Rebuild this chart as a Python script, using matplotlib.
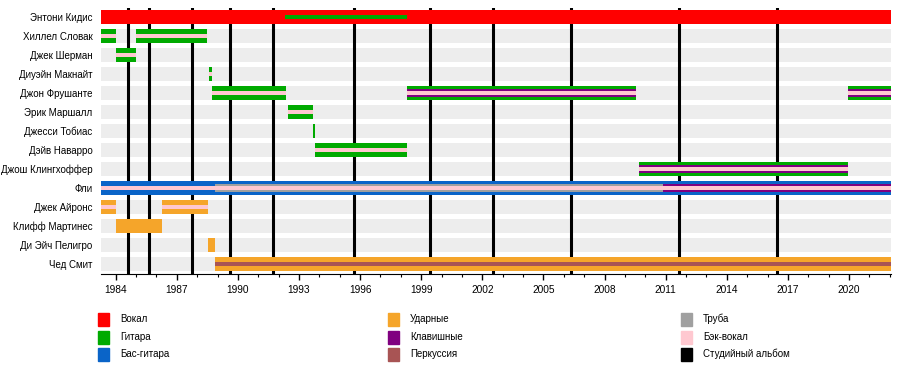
import matplotlib
matplotlib.use("Agg")
import matplotlib.pyplot as plt
from matplotlib.patches import Rectangle

plt.rcParams['font.family'] = ['Liberation Sans', 'DejaVu Sans']

W, H = 900, 370

# участники сверху вниз
members = ["Энтони Кидис", "Хиллел Словак", "Джек Шерман", "Диуэйн Макнайт",
           "Джон Фрушанте", "Эрик Маршалл", "Джесси Тобиас", "Дэйв Наварро",
           "Джош Клингхоффер", "Фли", "Джек Айронс", "Клифф Мартинес",
           "Ди Эйч Пелигро", "Чед Смит"]

start_year = 1983.28
end_year = 2022.06

colors = {
    "vocals": "#ff0000",
    "guitar": "#00aa00",
    "bass": "#0a64c8",
    "drums": "#f5a52a",
    "keys": "#800080",
    "perc": "#a85454",
    "trumpet": "#a0a0a0",
    "bvocals": "#ffc8d0",
    "album": "#000000",
}

legend_keys = ["vocals", "guitar", "bass", "drums", "keys", "perc",
               "trumpet", "bvocals", "album"]
legend_labels = ["Вокал", "Гитара", "Бас-гитара", "Ударные", "Клавишные",
                 "Перкуссия", "Труба", "Бэк-вокал", "Студийный альбом"]

# студийные альбомы (дата выхода)
albums = [1984.61, 1985.62, 1987.74, 1989.62, 1991.73, 1995.70, 1999.44,
          2002.52, 2006.35, 2011.65, 2016.46]

# (строка, начало, конец, инструмент, слой: 0 внешний ... 3 тонкая линия)
stints = [
    (0, start_year, end_year, "vocals", 0),
    (0, 1992.31, 1998.30, "guitar", 3),
    (1, start_year, 1984.0, "guitar", 0),
    (1, start_year, 1984.0, "bvocals", 2),
    (1, 1985.0, 1988.48, "guitar", 0),
    (1, 1985.0, 1988.48, "bvocals", 2),
    (2, 1984.0, 1985.0, "guitar", 0),
    (2, 1984.0, 1985.0, "bvocals", 2),
    (3, 1988.60, 1988.75, "guitar", 0),
    (3, 1988.60, 1988.75, "bvocals", 2),
    (4, 1988.75, 1992.36, "guitar", 0),
    (4, 1988.75, 1992.36, "bvocals", 2),
    (4, 1998.30, 2009.54, "guitar", 0),
    (4, 1998.30, 2009.54, "keys", 1),
    (4, 1998.30, 2009.54, "bvocals", 2),
    (4, 2019.96, end_year, "guitar", 0),
    (4, 2019.96, end_year, "keys", 1),
    (4, 2019.96, end_year, "bvocals", 2),
    (5, 1992.46, 1993.69, "guitar", 0),
    (5, 1992.46, 1993.69, "bvocals", 2),
    (6, 1993.69, 1993.80, "guitar", 0),
    (7, 1993.78, 1998.30, "guitar", 0),
    (7, 1993.78, 1998.30, "bvocals", 2),
    (8, 2009.69, 2019.96, "guitar", 0),
    (8, 2009.69, 2019.96, "keys", 1),
    (8, 2009.69, 2019.96, "bvocals", 2),
    (9, start_year, end_year, "bass", 0),
    (9, 1988.87, end_year, "trumpet", 1),
    (9, 2010.87, end_year, "keys", 1),
    (9, start_year, end_year, "bvocals", 2),
    (10, start_year, 1984.0, "drums", 0),
    (10, start_year, 1984.0, "bvocals", 2),
    (10, 1986.27, 1988.53, "drums", 0),
    (10, 1986.27, 1988.53, "bvocals", 2),
    (11, 1984.0, 1986.27, "drums", 0),
    (12, 1988.53, 1988.87, "drums", 0),
    (13, 1988.87, end_year, "drums", 0),
    (13, 1988.87, end_year, "perc", 2),
]

layer_heights = [0.74, 0.40, 0.24, 0.18]

fig = plt.figure(figsize=(W / 100, H / 100), dpi=100)
ax = fig.add_axes([101 / W, 1 - 273.5 / H, 790 / W, 266 / H])

rows = range(len(members))
ax.barh(rows, end_year - start_year, left=start_year, height=0.78,
        color="#ededed", zorder=1)

for a in albums:
    ax.axvline(a, color=colors["album"], linewidth=2.2, zorder=2)

for row, s, e, inst, layer in stints:
    ax.barh(row, e - s, left=s, height=layer_heights[layer],
            color=colors[inst], zorder=3 + layer)

ax.set_xlim(start_year, end_year)
ax.set_ylim(len(members) - 0.5, -0.5)
ax.set_yticks(list(rows))
ax.set_yticklabels(members, fontsize=7)
ax.tick_params(axis="y", length=0, pad=6)

ax.set_xticks(range(1984, 2022, 3))
ax.set_xticks(range(1984, 2023), minor=True)
ax.tick_params(axis="x", which="major", length=4.5, width=1, labelsize=7.3, pad=4)
ax.tick_params(axis="x", which="minor", length=2.5, width=0.8)

for side in ["top", "right", "left"]:
    ax.spines[side].set_visible(False)
ax.spines["bottom"].set_linewidth(0.8)

# легенда
col_x = [98, 388, 681]
row_y = [319, 337, 354]
for i, (key, label) in enumerate(zip(legend_keys, legend_labels)):
    cx = col_x[i // 3]
    cy = row_y[i % 3]
    fig.add_artist(Rectangle((cx / W, 1 - (cy + 6.5) / H), 11 / W, 13 / H,
                             transform=fig.transFigure, color=colors[key]))
    fig.text((cx + 22) / W, 1 - cy / H, label, fontsize=7,
             va="center", ha="left")

fig.savefig("out.png", dpi=100)
